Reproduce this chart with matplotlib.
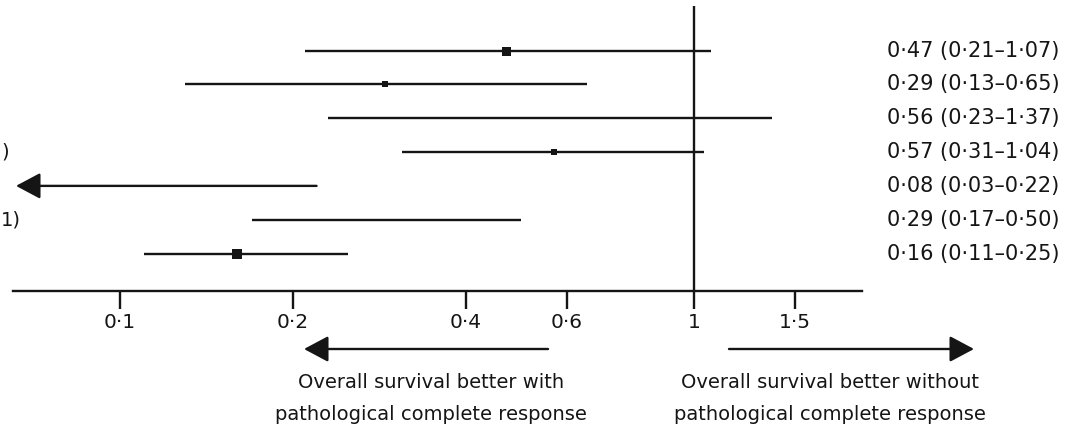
import matplotlib
matplotlib.use("Agg")
import matplotlib.pyplot as plt
from matplotlib import transforms

# hazard ratio and 95% CI for each row, top row first
hr = [0.47, 0.29, 0.56, 0.57, 0.08, 0.29, 0.16]
ci_low = [0.21, 0.13, 0.23, 0.31, 0.03, 0.17, 0.11]
ci_high = [1.07, 0.65, 1.37, 1.04, 0.22, 0.50, 0.25]

tick_values = [0.1, 0.2, 0.4, 0.6, 1, 1.5]
tick_labels = ["0·1", "0·2", "0·4", "0·6", "1", "1·5"]

# study labels are cut off by the left edge of the picture, only these bits show
left_bits = ["", "", "", ")", "", "1)", ""]
favours_left = ["Overall survival better with", "pathological complete response"]
favours_right = ["Overall survival better without", "pathological complete response"]

# size of the square (px) on each row
box_px = [9, 6, 0, 6, 0, 2.5, 10]

ink = "#151515"
plt.rcParams["font.family"] = ["DejaVu Sans"]

W, H = 1080, 432
fig = plt.figure(figsize=(W / 100, H / 100), dpi=100)

# axis line runs from x=13 to x=862 px, 0.1 sits at 120 px and 1 at 694 px
x0, x1, px_dec, px_one = 13, 862, 574, 694
y_axis, y_top = 290.7, 6
ax = fig.add_axes([x0 / W, (H - y_axis) / H, (x1 - x0) / W, (y_axis - y_top) / H])
ax.set_xscale("log")
ax.set_xlim(10 ** ((x0 - px_one) / px_dec), 10 ** ((x1 - px_one) / px_dec))
n = len(hr)
ax.set_ylim(-0.1, n + 1.32)

xmin = ax.get_xlim()[0]
lw = 1.7
for i in range(n):
    y = n - i
    if ci_low[i] < xmin:
        ax.annotate("", xy=(xmin * 10 ** (3 / px_dec), y), xytext=(ci_high[i], y),
                    arrowprops=dict(arrowstyle="-|>,head_length=0.75,head_width=0.4",
                                    color=ink, lw=lw, mutation_scale=20,
                                    shrinkA=0, shrinkB=0))
    else:
        ax.plot([ci_low[i], ci_high[i]], [y, y], color=ink, lw=lw,
                solid_capstyle="butt")
    if box_px[i]:
        ax.plot(hr[i], y, marker="s", ms=box_px[i] * 0.72, color=ink, mew=0)

ax.axvline(1, color=ink, lw=lw)

for s in ["left", "right", "top"]:
    ax.spines[s].set_visible(False)
ax.spines["bottom"].set_linewidth(lw)
ax.spines["bottom"].set_color(ink)
ax.set_yticks([])
ax.set_xticks(tick_values, tick_labels)
ax.minorticks_off()
ax.tick_params(axis="x", direction="out", length=13, width=lw, pad=3,
               labelsize=14.5, colors=ink)

# estimates column on the right, and the bits of the cut-off study labels
trans = transforms.blended_transform_factory(fig.transFigure, ax.transData)
for i in range(n):
    s = f"{hr[i]:.2f} ({ci_low[i]:.2f}–{ci_high[i]:.2f})".replace(".", "·")
    ax.text(887 / W, n - i, s, transform=trans, ha="left", va="center",
            fontsize=15, color=ink)
    if left_bits[i]:
        ax.text(1 / W, n - i, left_bits[i], transform=trans,
                ha="left", va="center", fontsize=14, color=ink)

# favours arrows and captions under the axis
arrow_kw = dict(arrowstyle="-|>,head_length=0.75,head_width=0.4", color=ink, lw=lw,
                mutation_scale=20, shrinkA=0, shrinkB=0)
fig.add_artist(matplotlib.patches.FancyArrowPatch((548 / W, 1 - 349 / H), (304 / W, 1 - 349 / H),
                                                  transform=fig.transFigure, **arrow_kw))
fig.add_artist(matplotlib.patches.FancyArrowPatch((729 / W, 1 - 349 / H), (974 / W, 1 - 349 / H),
                                                  transform=fig.transFigure, **arrow_kw))
for k, (a, b) in enumerate(zip(favours_left, favours_right)):
    yy = 1 - (383 + 31 * k) / H
    fig.text(431 / W, yy, a, ha="center", va="center", fontsize=14, color=ink)
    fig.text(830 / W, yy, b, ha="center", va="center", fontsize=14, color=ink)

fig.savefig("out.png", dpi=100)
